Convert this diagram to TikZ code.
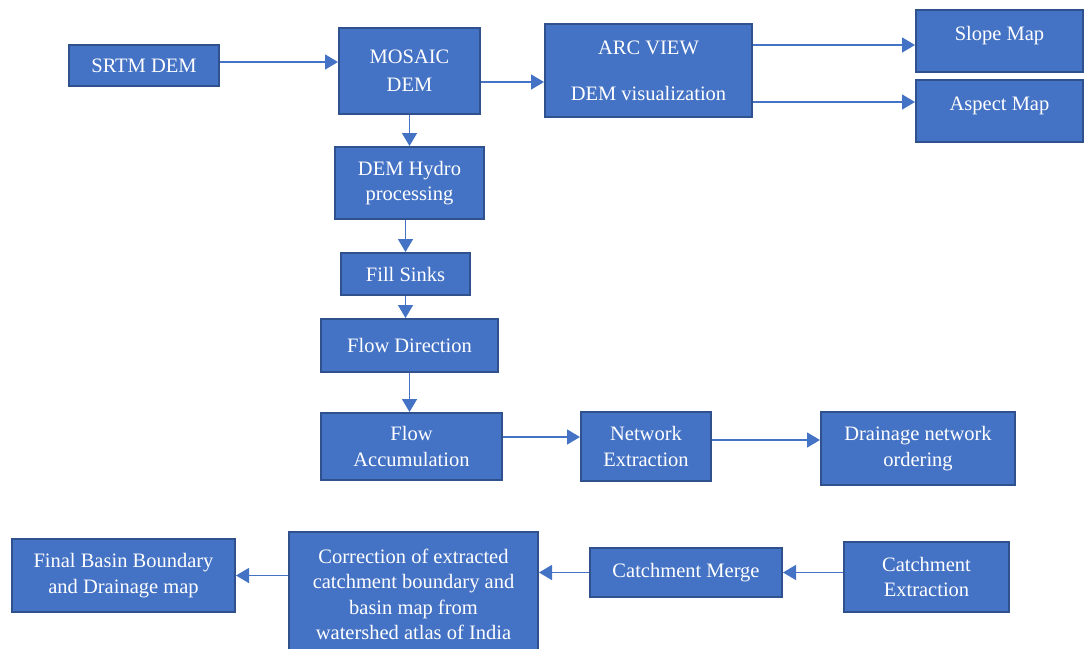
\documentclass[tikz,border=0pt]{standalone}
\usepackage{fontspec}
\setmainfont{Liberation Serif}
\usetikzlibrary{arrows.meta}
\definecolor{boxfill}{HTML}{4472C4}
\definecolor{boxline}{HTML}{2F528F}
\definecolor{arrcol}{HTML}{4472C4}
\tikzset{
  box/.style={draw=boxline, fill=boxfill, line width=2pt, inner sep=0pt,
    text=white, align=center, font=\fontsize{20.5}{25.5}\selectfont},
  arr/.style={draw=arrcol, line width=1.5pt, -{Triangle[length=13pt,width=15pt]}},
}
\newcommand{\up}[1]{\raisebox{5pt}[\height][\depth]{#1}}
\begin{document}
\begin{tikzpicture}[x=1pt,y=-1pt]
\useasboundingbox (0,0) rectangle (1087,648);
\node[box, minimum width=150pt, minimum height=41pt] (srtm) at (144,65.5) {SRTM DEM};
\node[box, minimum width=141pt, minimum height=86pt] (mosaic) at (409.5,71) {MOSAIC\\[2.5pt]DEM};
\node[box, minimum width=207pt, minimum height=93pt] (arc) at (648.5,70.5) {ARC VIEW\\[20.5pt]DEM visualization};
\node[box, minimum width=167pt, minimum height=62pt] (slope) at (999.5,41) {\up{Slope Map}};
\node[box, minimum width=167pt, minimum height=62pt] (aspect) at (999.5,111) {\up{Aspect Map}};
\node[box, minimum width=149pt, minimum height=72pt] (hydro) at (409.5,183) {DEM Hydro\\processing};
\node[box, minimum width=129pt, minimum height=42pt] (fill) at (405.5,274) {Fill Sinks};
\node[box, minimum width=177pt, minimum height=53pt] (flowdir) at (409.5,345.5) {Flow Direction};
\node[box, minimum width=181pt, minimum height=67pt] (flowacc) at (411.5,446.5) {Flow\\Accumulation};
\node[box, minimum width=130pt, minimum height=69pt] (network) at (646,446.5) {Network\\Extraction};
\node[box, minimum width=194pt, minimum height=73pt] (drainage) at (918,448.5) {Drainage network\\ordering};
\node[box, minimum width=223pt, minimum height=73pt] (final) at (123.5,575.5) {Final Basin Boundary\\and Drainage map};
\node[box, minimum width=249pt, minimum height=125pt] (correction) at (413.5,594.5) {Correction of extracted\\catchment boundary and\\basin map from\\watershed atlas of India};
\node[box, minimum width=192pt, minimum height=49pt] (merge) at (686,572.5) {Catchment Merge};
\node[box, minimum width=165pt, minimum height=70pt] (extraction) at (926.5,577) {Catchment\\Extraction};

\coordinate (s1) at ([yshift=3.5pt]srtm.east);
\coordinate (m1) at ([yshift=-11pt]mosaic.east);
\coordinate (a1) at ([yshift=25.5pt]arc.east);
\coordinate (a2) at ([yshift=-31.5pt]arc.east);
\coordinate (f1) at ([yshift=9.5pt]flowacc.east);
\coordinate (n1) at ([yshift=6.5pt]network.east);

\draw[arr] (s1) -- (mosaic.west |- s1);
\draw[arr] (m1) -- (arc.west |- m1);
\draw[arr] (a1) -- (slope.west |- a1);
\draw[arr] (a2) -- (aspect.west |- a2);
\draw[arr] (mosaic.south) -- (hydro.north -| mosaic.south);
\draw[arr] (hydro.south -| fill.north) -- (fill.north);
\draw[arr] (fill.south) -- (flowdir.north -| fill.south);
\draw[arr] (flowdir.south) -- (flowacc.north -| flowdir.south);
\draw[arr] (f1) -- (network.west |- f1);
\draw[arr] (n1) -- (drainage.west |- n1);
\draw[arr] (extraction.west |- merge.east) -- (merge.east);
\draw[arr] (merge.west) -- (correction.east |- merge.west);
\draw[arr] (correction.west |- final.east) -- (final.east);
\end{tikzpicture}
\end{document}
